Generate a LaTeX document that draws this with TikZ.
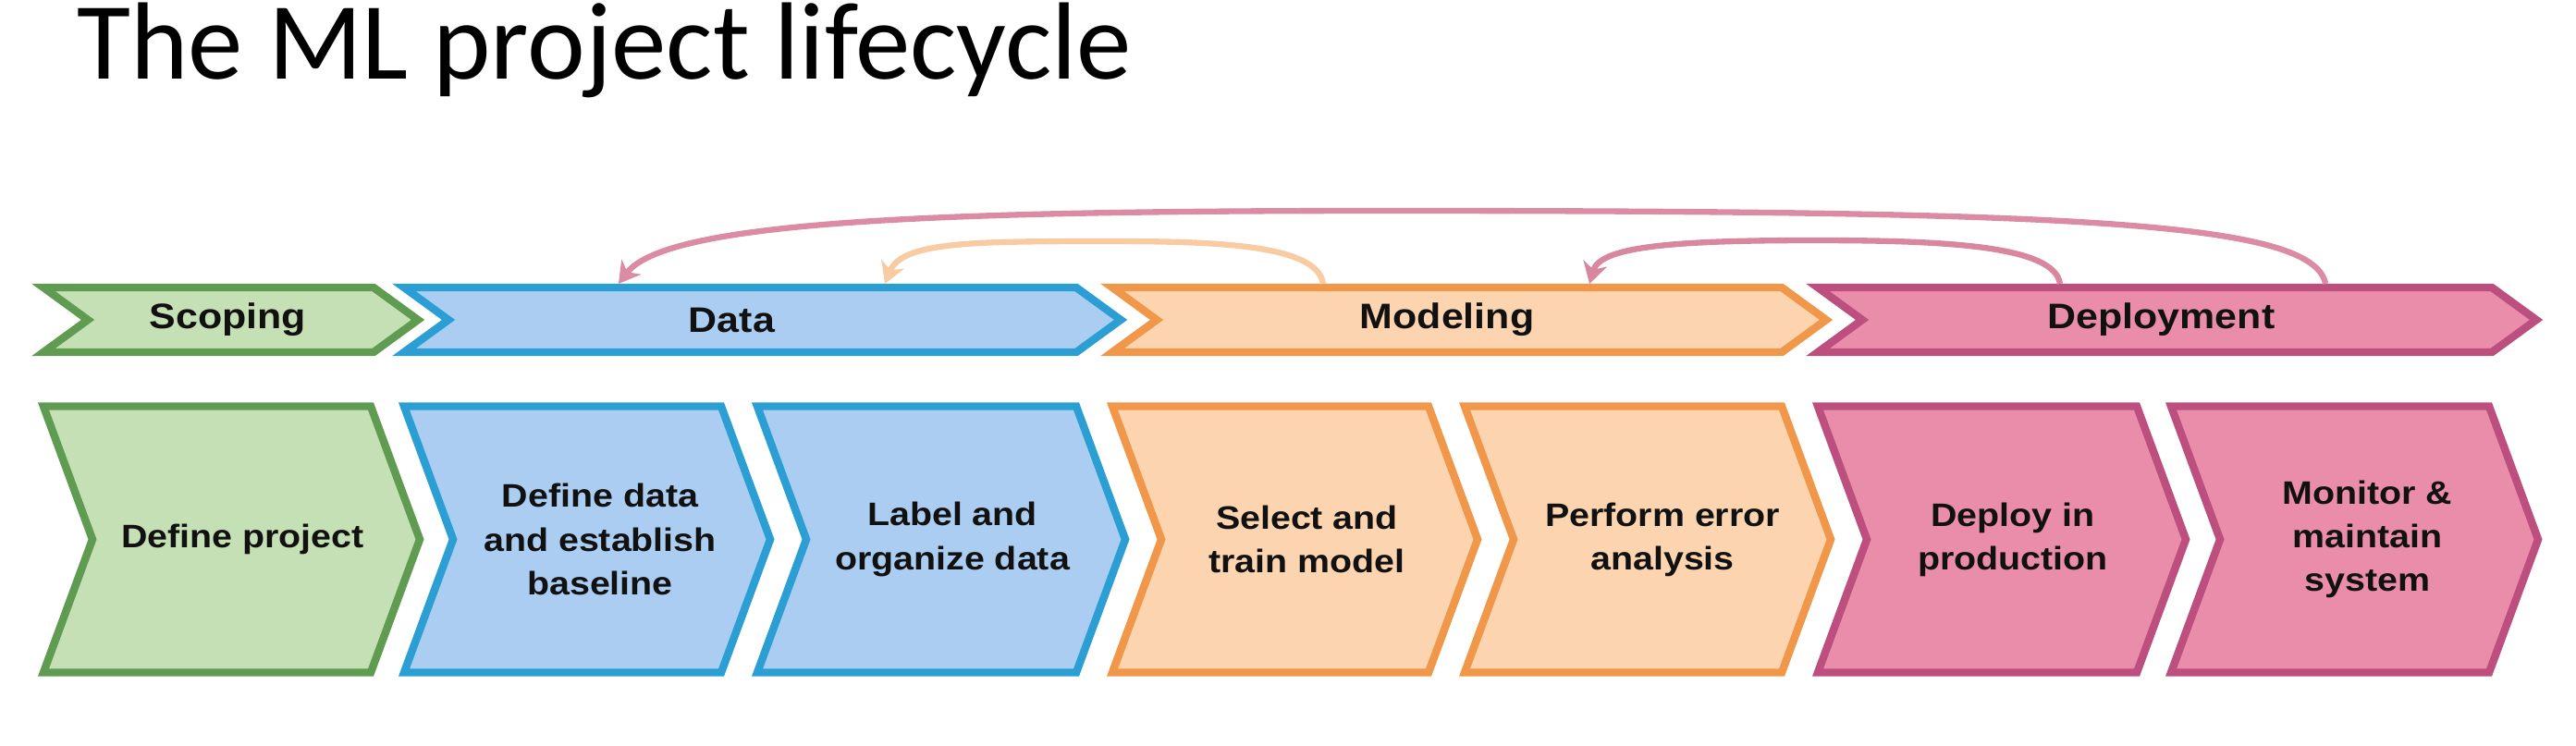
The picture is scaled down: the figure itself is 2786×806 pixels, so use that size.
\documentclass[tikz,border=0pt]{standalone}
\usepackage{fontspec}
\setmainfont{Liberation Sans}
\newfontfamily\titlefont{Carlito}
\newfontfamily\labfont[FakeStretch=1.12]{Liberation Sans}
\usetikzlibrary{arrows.meta}
\definecolor{gfill}{HTML}{C5E0B4}
\definecolor{gline}{HTML}{609B52}
\definecolor{bfill}{HTML}{ABCDF1}
\definecolor{bline}{HTML}{2B9FD3}
\definecolor{ofill}{HTML}{FCD5B0}
\definecolor{oline}{HTML}{F0974A}
\definecolor{pfill}{HTML}{E98DAA}
\definecolor{pline}{HTML}{BC4F7E}
\definecolor{arrpink}{HTML}{DC8BA5}
\definecolor{arrpink2}{HTML}{D9869F}
\definecolor{arrorange}{HTML}{F9CBA3}
\definecolor{txt}{HTML}{111111}
\tikzset{
  chevbase/.style={line width=2.4pt, line join=miter},
  chevG/.style={chevbase, draw=gline, fill=gfill},
  chevB/.style={chevbase, draw=bline, fill=bfill},
  chevO/.style={chevbase, draw=oline, fill=ofill},
  chevP/.style={chevbase, draw=pline, fill=pfill},
  holder/.style={inner sep=0pt, outer sep=0pt},
  toplab/.style={text=txt, font=\labfont\bfseries\fontsize{10.9}{13}\selectfont},
  botlab/.style={text=txt, align=center, font=\labfont\bfseries\fontsize{10}{13.4}\selectfont},
  loop/.style={line width=1.8pt, -{Stealth[length=6.5pt,width=7.5pt,inset=2pt]}},
}
% #1 name, #2 left x, #3 tip x, #4 centre y, #5 height, #6 depth, #7 style
\newcommand{\mkchev}[7]{%
  \node[holder, minimum width={(#3-#2)*0.01cm}, minimum height={#5*0.01cm}] (#1) at ({(#2+#3)/2},#4) {};
  \draw[#7] (#1.north west) -- ([xshift=-#6*0.01cm]#1.north east) -- (#1.east)
    -- ([xshift=-#6*0.01cm]#1.south east) -- (#1.south west)
    -- ([xshift=#6*0.01cm]#1.west) -- cycle;
}
\begin{document}
\begin{tikzpicture}[x=0.01cm, y=-0.01cm]
\useasboundingbox (0,0) rectangle (2786,806);
\node[anchor=base west, inner sep=0pt, font=\titlefont\fontsize{33.8}{40}\selectfont] (title) at (83,85) {The ML project lifecycle};

% top row
\mkchev{scoping}{47}{452}{346}{70}{48}{chevG}
\mkchev{data}{437}{1212}{346}{70}{48}{chevB}
\mkchev{modeling}{1203}{1975}{346}{70}{48}{chevO}
\mkchev{deploy}{1966}{2743}{346}{70}{48}{chevP}
\node[toplab] (scoping-t) at ([xshift=-0.03cm]scoping.center) {Scoping};
\node[toplab] (data-t) at ([xshift=-0.33cm]data.center) {Data};
\node[toplab] (modeling-t) at ([xshift=-0.24cm]modeling.center) {Modeling};
\node[toplab] (deploy-t) at ([xshift=-0.17cm]deploy.center) {Deployment};

% bottom row
\mkchev{dp}{47}{454}{583.5}{288}{53}{chevG}
\mkchev{dd}{437}{833}{583.5}{288}{53}{chevB}
\mkchev{lo}{819}{1217}{583.5}{288}{53}{chevB}
\mkchev{st}{1203}{1598}{583.5}{288}{53}{chevO}
\mkchev{pe}{1584}{1980}{583.5}{288}{53}{chevO}
\mkchev{dip}{1966}{2364}{583.5}{288}{53}{chevP}
\mkchev{mm}{2348}{2745}{583.5}{288}{53}{chevP}
\node[botlab] (dp-t) at ([xshift=0.12cm]dp.center) {Define project};
\node[botlab] (dd-t) at ([xshift=0.14cm]dd.center) {Define data\\and establish\\baseline};
\node[botlab] (lo-t) at ([xshift=0.12cm]lo.center) {Label and\\organize data};
\node[botlab] (st-t) at ([xshift=0.13cm]st.center) {Select and\\train model};
\node[botlab] (pe-t) at ([xshift=0.16cm]pe.center) {Perform error\\analysis};
\node[botlab] (dip-t) at ([xshift=0.12cm]dip.center) {Deploy in\\production};
\node[botlab] (mm-t) at ([xshift=0.14cm]mm.center) {Monitor \&\\maintain\\system};

% feedback loops
\draw[loop, draw=arrpink, arrpink] ([xshift=1.605cm, yshift=0.04cm]deploy.north)
  .. controls (2502,240) and (2250,228) .. (1500,228)
  .. controls (1000,228) and (720,240) .. ([xshift=-1.555cm, yshift=0.04cm]data.north);
\draw[loop, draw=arrorange, arrorange] ([xshift=-1.58cm, yshift=0.04cm]modeling.north)
  .. controls (1425,262) and (1300,261) .. (1190,261)
  .. controls (1050,261) and (975,262) .. ([xshift=1.325cm, yshift=0.04cm]data.north);
\draw[loop, draw=arrpink2, arrpink2] ([xshift=-1.265cm, yshift=0.04cm]deploy.north)
  .. controls (2222,265) and (2100,260) .. (1960,260)
  .. controls (1800,260) and (1730,268) .. ([xshift=1.30cm, yshift=0.04cm]modeling.north);
\end{tikzpicture}
\end{document}
